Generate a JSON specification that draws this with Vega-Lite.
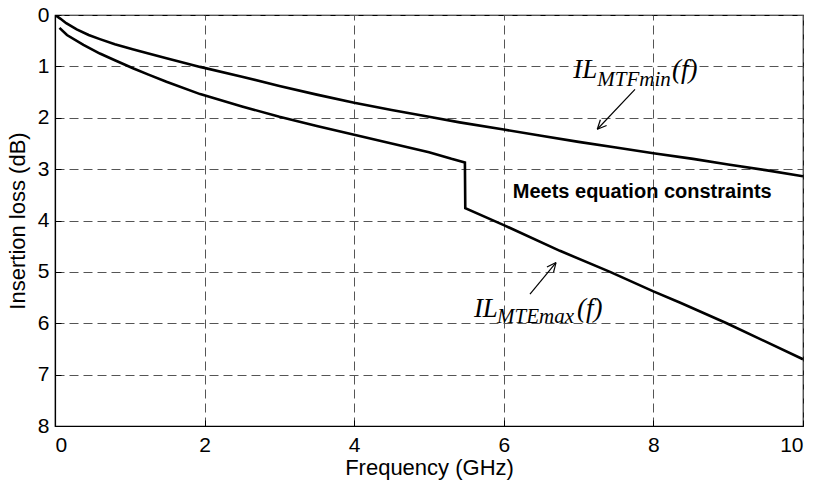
{
  "$schema": "https://vega.github.io/schema/vega-lite/v6.json",
  "width": 748,
  "height": 411,
  "autosize": {"type": "none"},
  "padding": {"left": 55, "top": 15, "right": 13, "bottom": 61},
  "background": "white",
  "config": {
    "view": {"stroke": "black", "strokeWidth": 1.2},
    "axis": {
      "domainColor": "black",
      "domainWidth": 1.2,
      "gridColor": "#555555",
      "gridDash": [9, 5],
      "gridWidth": 1,
      "gridOpacity": 1,
      "tickColor": "black",
      "tickSize": -6,
      "labelFont": "Liberation Sans",
      "labelFontSize": 21,
      "labelColor": "black",
      "titleFont": "Liberation Sans",
      "titleFontSize": 22,
      "titleFontWeight": "normal",
      "titleColor": "black"
    }
  },
  "datasets": {
    "curves": [
      {"series": "MTFmin", "f": 0.0, "il": 0.0},
      {"series": "MTFmin", "f": 0.07, "il": 0.07},
      {"series": "MTFmin", "f": 0.15, "il": 0.16},
      {"series": "MTFmin", "f": 0.29, "il": 0.28},
      {"series": "MTFmin", "f": 0.45, "il": 0.39},
      {"series": "MTFmin", "f": 0.6, "il": 0.47},
      {"series": "MTFmin", "f": 0.8, "il": 0.57},
      {"series": "MTFmin", "f": 1.05, "il": 0.67},
      {"series": "MTFmin", "f": 1.25, "il": 0.75},
      {"series": "MTFmin", "f": 1.49, "il": 0.84},
      {"series": "MTFmin", "f": 1.94, "il": 1.01},
      {"series": "MTFmin", "f": 2.5, "il": 1.2},
      {"series": "MTFmin", "f": 3.0, "il": 1.38},
      {"series": "MTFmin", "f": 3.5, "il": 1.55},
      {"series": "MTFmin", "f": 4.0, "il": 1.71},
      {"series": "MTFmin", "f": 4.5, "il": 1.85},
      {"series": "MTFmin", "f": 5.0, "il": 1.98},
      {"series": "MTFmin", "f": 5.41, "il": 2.09},
      {"series": "MTFmin", "f": 6.0, "il": 2.23},
      {"series": "MTFmin", "f": 6.5, "il": 2.35},
      {"series": "MTFmin", "f": 7.0, "il": 2.47},
      {"series": "MTFmin", "f": 7.5, "il": 2.58},
      {"series": "MTFmin", "f": 8.0, "il": 2.69},
      {"series": "MTFmin", "f": 8.53, "il": 2.8},
      {"series": "MTFmin", "f": 9.0, "il": 2.91},
      {"series": "MTFmin", "f": 9.5, "il": 3.02},
      {"series": "MTFmin", "f": 10.0, "il": 3.14},
      {"series": "MTEmax", "f": 0.06, "il": 0.25},
      {"series": "MTEmax", "f": 0.16, "il": 0.39},
      {"series": "MTEmax", "f": 0.38, "il": 0.58},
      {"series": "MTEmax", "f": 0.6, "il": 0.75},
      {"series": "MTEmax", "f": 0.8, "il": 0.88},
      {"series": "MTEmax", "f": 1.05, "il": 1.04},
      {"series": "MTEmax", "f": 1.25, "il": 1.16},
      {"series": "MTEmax", "f": 1.49, "il": 1.3},
      {"series": "MTEmax", "f": 1.94, "il": 1.54},
      {"series": "MTEmax", "f": 2.5, "il": 1.78},
      {"series": "MTEmax", "f": 3.0, "il": 1.98},
      {"series": "MTEmax", "f": 3.5, "il": 2.16},
      {"series": "MTEmax", "f": 4.0, "il": 2.33},
      {"series": "MTEmax", "f": 4.5, "il": 2.5},
      {"series": "MTEmax", "f": 5.0, "il": 2.67},
      {"series": "MTEmax", "f": 5.3, "il": 2.8},
      {"series": "MTEmax", "f": 5.48, "il": 2.87},
      {"series": "MTEmax", "f": 5.485, "il": 3.76},
      {"series": "MTEmax", "f": 6.0, "il": 4.09},
      {"series": "MTEmax", "f": 6.75, "il": 4.59},
      {"series": "MTEmax", "f": 7.42, "il": 5.0},
      {"series": "MTEmax", "f": 8.0, "il": 5.38},
      {"series": "MTEmax", "f": 8.36, "il": 5.6},
      {"series": "MTEmax", "f": 8.98, "il": 6.0},
      {"series": "MTEmax", "f": 10.0, "il": 6.7}
    ],
    "arrows": [
      {"f": 7.754, "il": 1.446, "f2": 7.25, "il2": 2.224},
      {"f": 7.25, "il": 2.224, "f2": 7.374, "il2": 2.152},
      {"f": 7.25, "il": 2.224, "f2": 7.291, "il2": 2.039},
      {"f": 6.35, "il": 5.434, "f2": 6.698, "il2": 4.819},
      {"f": 6.698, "il": 4.819, "f2": 6.577, "il2": 4.905},
      {"f": 6.698, "il": 4.819, "f2": 6.665, "il2": 5.008}
    ],
    "mainLabels": [
      {"f": 6.93, "il": 1.23, "t": "IL"},
      {"f": 8.25, "il": 1.23, "t": "(f)"},
      {"f": 5.6, "il": 5.87, "t": "IL"},
      {"f": 6.98, "il": 5.87, "t": "(f)"}
    ],
    "subLabels": [
      {"f": 7.25, "il": 1.39, "t": "MTFmin"},
      {"f": 5.91, "il": 5.99, "t": "MTEmax"}
    ],
    "note": [
      {"f": 6.12, "il": 3.56, "t": "Meets equation constraints"}
    ]
  },
  "layer": [
    {
      "data": {"name": "curves"},
      "mark": {"type": "line", "color": "black", "strokeWidth": 2.6, "clip": true},
      "encoding": {
        "x": {
          "field": "f", "type": "quantitative",
          "scale": {"domain": [0, 10], "nice": false},
          "axis": {"values": [0, 2, 4, 6, 8, 10], "format": "d", "title": "Frequency (GHz)", "grid": true, "labelPadding": 14, "titlePadding": 2}
        },
        "y": {
          "field": "il", "type": "quantitative",
          "scale": {"domain": [0, 8], "reverse": true, "nice": false},
          "axis": {"values": [0, 1, 2, 3, 4, 5, 6, 7, 8], "format": "d", "title": "Insertion loss (dB)", "grid": true, "labelPadding": 12, "titlePadding": 8}
        },
        "detail": {"field": "series"},
        "order": {"field": "f", "type": "quantitative"}
      }
    },
    {
      "data": {"name": "arrows"},
      "mark": {"type": "rule", "color": "black", "strokeWidth": 1.2},
      "encoding": {
        "x": {"field": "f", "type": "quantitative"},
        "y": {"field": "il", "type": "quantitative"},
        "x2": {"field": "f2"},
        "y2": {"field": "il2"}
      }
    },
    {
      "data": {"name": "mainLabels"},
      "mark": {"type": "text", "font": "Liberation Serif", "fontStyle": "italic", "fontSize": 27, "align": "left", "baseline": "alphabetic", "color": "black"},
      "encoding": {
        "x": {"field": "f", "type": "quantitative"},
        "y": {"field": "il", "type": "quantitative"},
        "text": {"field": "t"}
      }
    },
    {
      "data": {"name": "subLabels"},
      "mark": {"type": "text", "font": "Liberation Serif", "fontStyle": "italic", "fontSize": 21, "align": "left", "baseline": "alphabetic", "color": "black"},
      "encoding": {
        "x": {"field": "f", "type": "quantitative"},
        "y": {"field": "il", "type": "quantitative"},
        "text": {"field": "t"}
      }
    },
    {
      "data": {"name": "note"},
      "mark": {"type": "text", "font": "Liberation Sans", "fontWeight": "bold", "fontSize": 20, "align": "left", "baseline": "alphabetic", "color": "black"},
      "encoding": {
        "x": {"field": "f", "type": "quantitative"},
        "y": {"field": "il", "type": "quantitative"},
        "text": {"field": "t"}
      }
    }
  ]
}
